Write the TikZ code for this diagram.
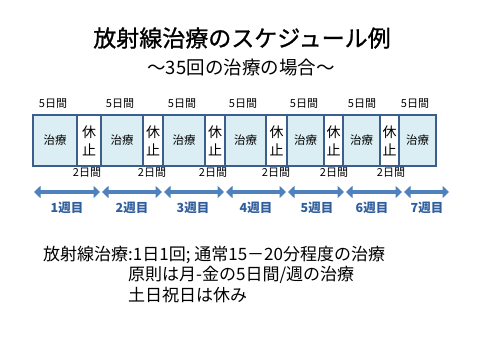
\documentclass[tikz,border=0pt]{standalone}
\usepackage{fontspec}
\setmainfont{Noto Sans CJK JP}
\usetikzlibrary{arrows.meta}
\definecolor{bordc}{HTML}{3B5E8C}
\definecolor{fillc}{HTML}{DBEEF4}
\definecolor{arrc}{HTML}{4F81BD}
\definecolor{weekc}{HTML}{2F5E9E}
\tikzset{
  treat/.style={draw=bordc, line width=2pt, fill=fillc, minimum height=51pt, inner sep=0pt, font=\fontsize{11.5}{12}\selectfont},
  rest/.style={draw=bordc, line width=2pt, fill=white, minimum height=51pt, inner sep=0pt, align=center, font=\fontsize{14}{18}\selectfont},
  dlab/.style={inner sep=0pt, font=\fontsize{11}{12}\selectfont},
  wk/.style={inner sep=0pt, text=weekc, font=\fontsize{12.5}{13}\selectfont\bfseries},
  wkarrow/.style={draw=arrc, line width=4pt, {Triangle[width=12pt,length=6.5pt]}-{Triangle[width=12pt,length=6.5pt]}},
  txt/.style={inner sep=0pt, anchor=west, font=\fontsize{17}{18}\selectfont}
}
\begin{document}
\begin{tikzpicture}[x=1pt,y=-1pt]
\useasboundingbox (0,0) rectangle (480,360);
\fill[white] (0,0) rectangle (480,360);
% title
\node[inner sep=0pt, font=\fontsize{23}{24}\selectfont\addfontfeature{FakeBold=1}] (title) at (242,38) {放射線治療のスケジュール例};
\node[inner sep=0pt, font=\fontsize{18.5}{19}\selectfont] (sub) at (241,67) {〜35回の治療の場合〜};
% boxes
\node[rest, minimum width=24pt] (r1) at (89,140.5) {休\\止};
\node[rest, minimum width=20pt] (r2) at (153,140.5) {休\\止};
\node[rest, minimum width=20pt] (r3) at (215,140.5) {休\\止};
\node[rest, minimum width=21pt] (r4) at (276.5,140.5) {休\\止};
\node[rest, minimum width=19pt] (r5) at (333.5,140.5) {休\\止};
\node[rest, minimum width=19pt] (r6) at (389.5,140.5) {休\\止};
\node[treat, minimum width=44pt] (t1) at (55,140.5) {治療};
\node[treat, minimum width=42pt] (t2) at (122,140.5) {治療};
\node[treat, minimum width=42pt] (t3) at (184,140.5) {治療};
\node[treat, minimum width=41pt] (t4) at (245.5,140.5) {治療};
\node[treat, minimum width=37pt] (t5) at (305.5,140.5) {治療};
\node[treat, minimum width=37pt] (t6) at (361.5,140.5) {治療};
\node[treat, minimum width=37pt] (t7) at (417.5,140.5) {治療};
% 5-day labels
\node[dlab] (f1) at (53,104) {5日間};
\node[dlab] (f2) at (120,104) {5日間};
\node[dlab] (f3) at (182,104) {5日間};
\node[dlab] (f4) at (243,104) {5日間};
\node[dlab] (f5) at (304,104) {5日間};
\node[dlab] (f6) at (362,104) {5日間};
\node[dlab] (f7) at (415,104) {5日間};
% 2-day labels
\node[dlab] (s1) at (87,173) {2日間};
\node[dlab] (s2) at (152,173) {2日間};
\node[dlab] (s3) at (213,173) {2日間};
\node[dlab] (s4) at (276,173) {2日間};
\node[dlab] (s5) at (334,173) {2日間};
\node[dlab] (s6) at (391,173) {2日間};
% week arrows
\coordinate (a0) at (34,192);
\coordinate (a1) at (100,192);
\coordinate (b0) at (102,192);
\coordinate (b1) at (162,192);
\coordinate (c0) at (164,192);
\coordinate (c1) at (224,192);
\coordinate (d0) at (226,192);
\coordinate (d1) at (286,192);
\coordinate (e0) at (288,192);
\coordinate (e1) at (344,192);
\coordinate (g0) at (346,192);
\coordinate (g1) at (402,192);
\coordinate (h0) at (404,192);
\coordinate (h1) at (449,192);
\draw[wkarrow] (a0) -- (a1);
\draw[wkarrow] (b0) -- (b1);
\draw[wkarrow] (c0) -- (c1);
\draw[wkarrow] (d0) -- (d1);
\draw[wkarrow] (e0) -- (e1);
\draw[wkarrow] (g0) -- (g1);
\draw[wkarrow] (h0) -- (h1);
% week labels
\node[wk] (w1) at (67,208) {1週目};
\node[wk] (w2) at (132,208) {2週目};
\node[wk] (w3) at (193,208) {3週目};
\node[wk] (w4) at (256,208) {4週目};
\node[wk] (w5) at (317,208) {5週目};
\node[wk] (w6) at (372,208) {6週目};
\node[wk] (w7) at (427,208) {7週目};
% bottom text
\node[txt] (l1) at (43,255) {放射線治療:1日1回; 通常15－20分程度の治療};
\node[txt] (l2) at (128,275) {原則は月-金の5日間/週の治療};
\node[txt] (l3) at (128,295) {土日祝日は休み};
\end{tikzpicture}
\end{document}
